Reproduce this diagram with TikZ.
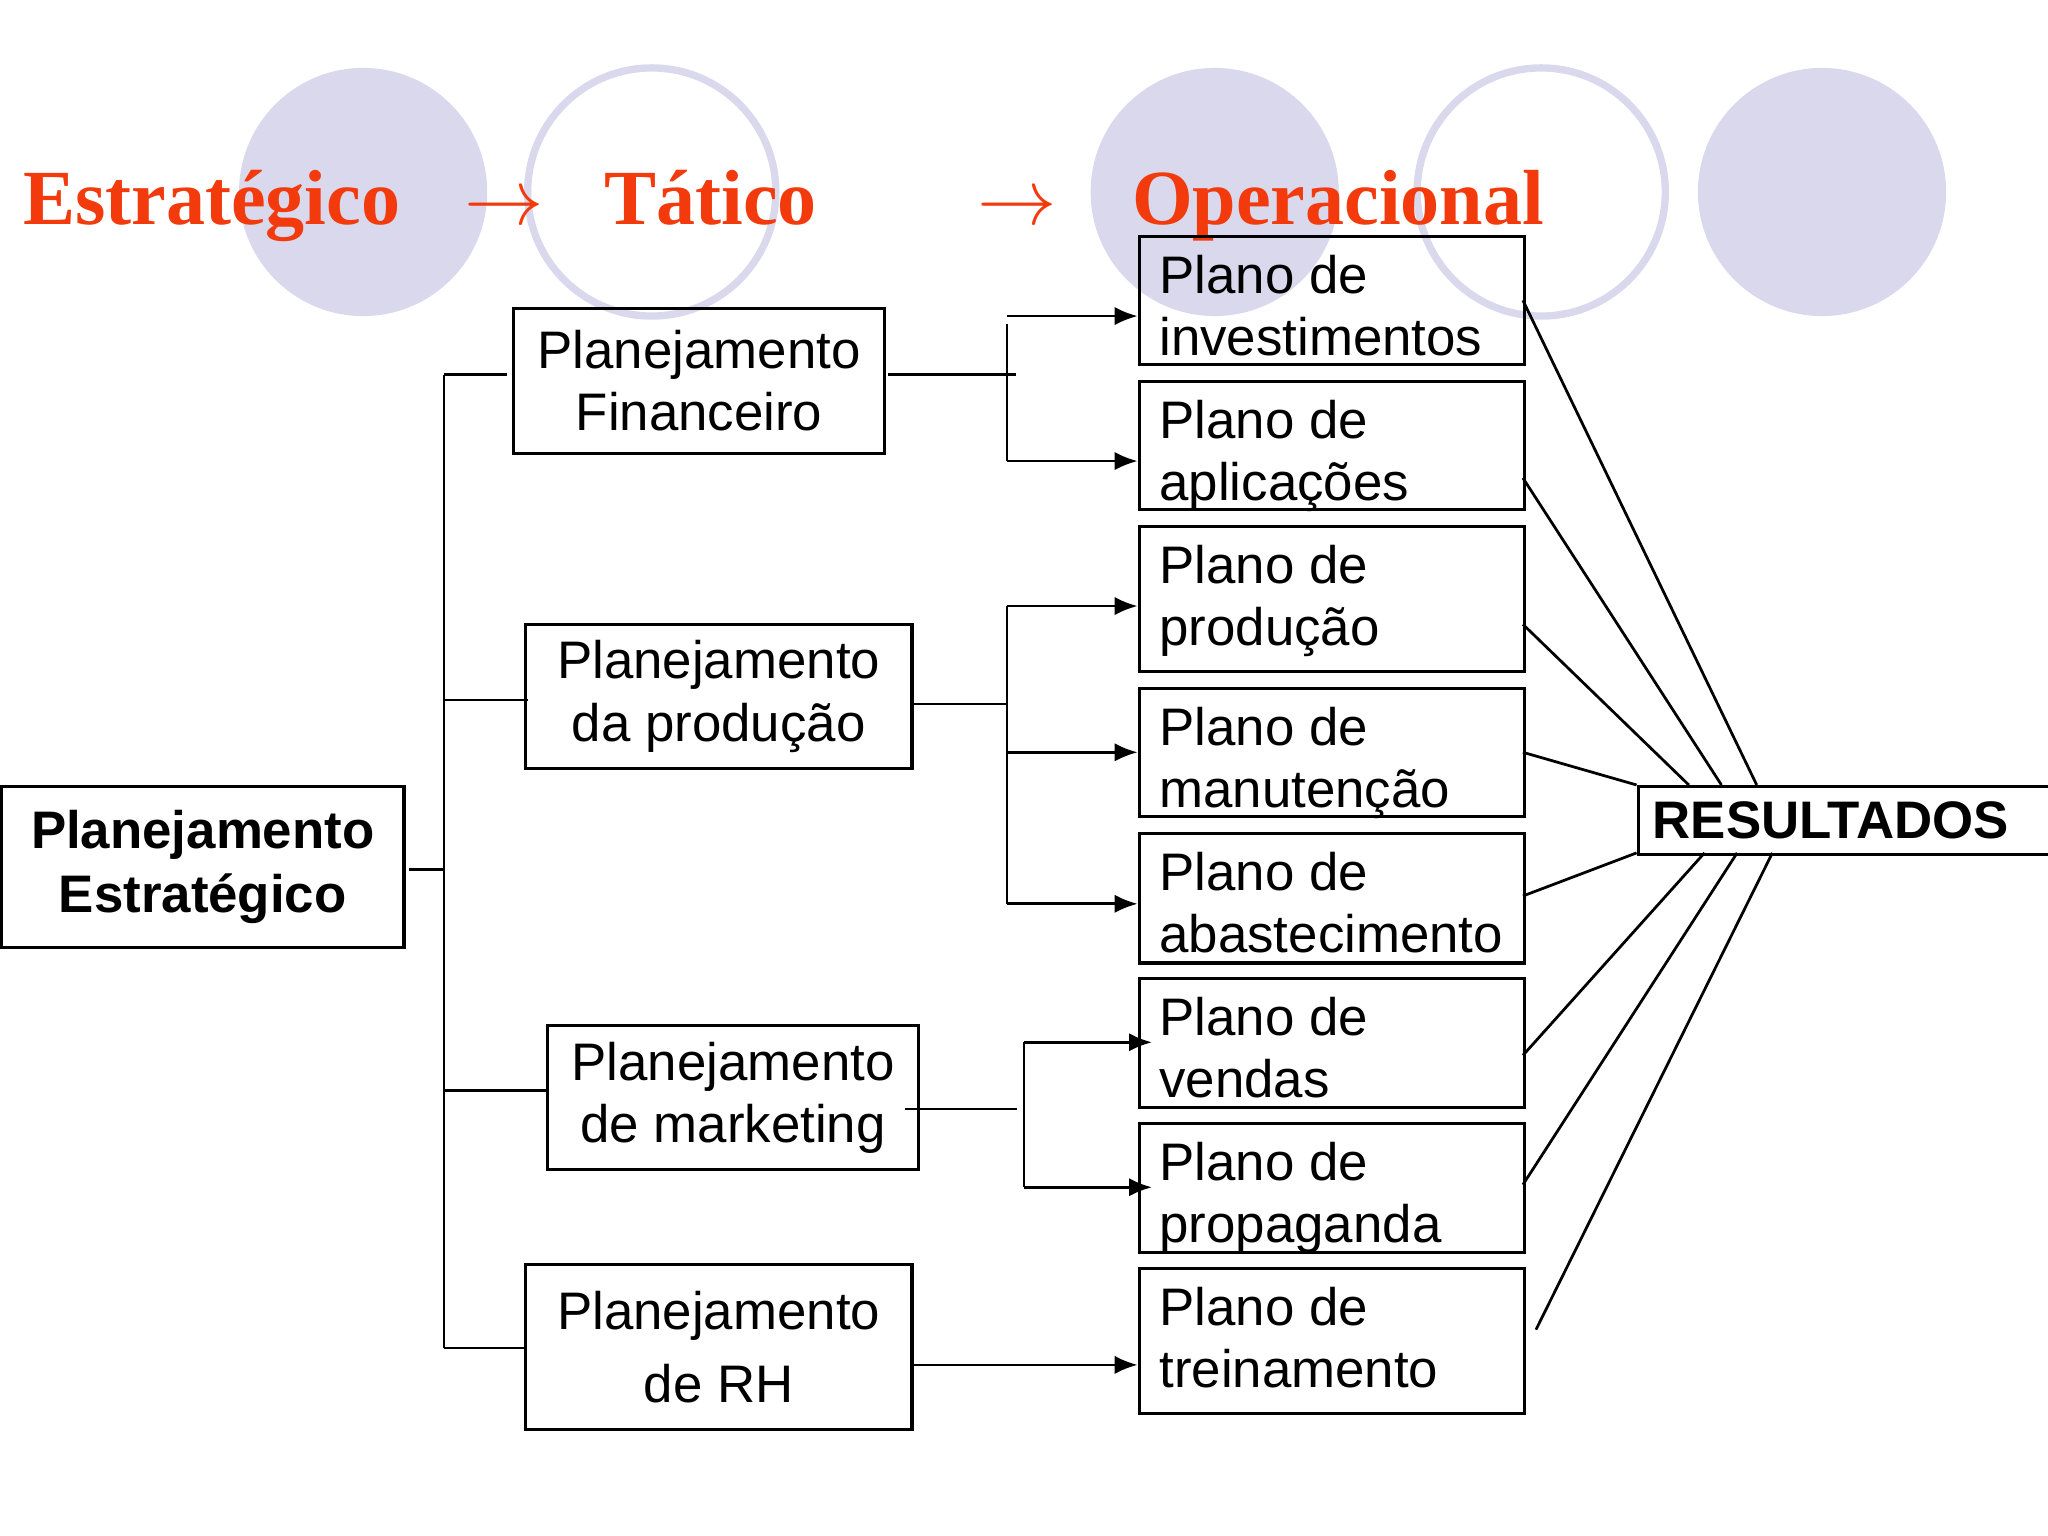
\documentclass[tikz,border=0pt]{standalone}
\usepackage{fontspec}
\setmainfont{Liberation Sans}
\newfontfamily\titlefont{Liberation Serif}
\usetikzlibrary{arrows.meta}
\definecolor{lav}{HTML}{D9D8EC}
\definecolor{tred}{HTML}{F23A0C}
\tikzset{
 x=0.01cm,y=-0.01cm,
 box/.style={draw,line width=0.7pt,inner sep=0pt},
 txt/.style={font=\fontsize{11.5}{13.5}\selectfont,inner sep=0pt},
 ctxt/.style={txt,align=center},
 ltxt/.style={txt,align=left,anchor=north west},
 title/.style={font=\titlefont\bfseries\fontsize{17}{20}\selectfont,text=tred,inner sep=0pt,anchor=base west},
 fc/.style={fill=lav,draw=none},
 oc/.style={draw=lav,line width=1.6pt},
 ln/.style={line width=0.6pt},
 ar/.style={ln,-{Latex[length=5pt,width=4pt]}},
}
\newcommand{\mybox}[5]{\node[box,minimum width={(#4-#2)*0.01cm},minimum height={(#5-#3)*0.01cm},anchor=north west] (#1) at (#2,#3) {};}
\begin{document}
\begin{tikzpicture}
\useasboundingbox (0,0) rectangle (1568,1176);
\fill[fc] (278,147) circle (95);
\draw[oc] (499,147) circle (95);
\fill[fc] (930,147) circle (95);
\draw[oc] (1180,147) circle (95);
\fill[fc] (1395,147) circle (95);
\node[title] (t1) at (17,172) {Estratégico};
\node[title] (a1) at (355,172) {$\rightarrow$};
\node[title] (t2) at (462,172) {Tático};
\node[title] (a2) at (748,172) {$\rightarrow$};
\node[title] (t3) at (866,172) {Operacional};

\mybox{pe}{0}{601}{308}{724}
\node[ctxt,font=\bfseries\fontsize{11.5}{14}\selectfont] at (pe) {Planejamento\\Estratégico};
\mybox{pf}{392}{235}{676}{346}
\node[ctxt] at (pf) {Planejamento\\Financeiro};
\mybox{pp}{401}{477}{697}{587}
\node[ctxt] at (pp) {Planejamento\\da produção};
\mybox{pm}{418}{784}{702}{894}
\node[ctxt] at (pm) {Planejamento\\de marketing};
\mybox{prh}{401}{967}{697}{1093}
\node[ctxt,font=\fontsize{11.5}{16}\selectfont] at (prh) {Planejamento\\de RH};

\mybox{inv}{871}{180}{1166}{278}
\mybox{apl}{871}{291}{1166}{389}
\mybox{prod}{871}{402}{1166}{513}
\mybox{man}{871}{526}{1166}{624}
\mybox{aba}{871}{637}{1166}{736}
\mybox{ven}{871}{748}{1166}{847}
\mybox{prop}{871}{859}{1166}{958}
\mybox{tre}{871}{970}{1166}{1081}
\foreach \n/\t in {inv/investimentos,apl/aplicações,prod/produção,man/manutenção,aba/abastecimento,ven/vendas,prop/propaganda,tre/treinamento}
  \node[ltxt] at ([xshift=0.16cm,yshift=-0.15cm]\n.north west) {Plano de\\\t};
\mybox{res}{1253}{601}{1568}{653}
\node[txt,font=\bfseries\fontsize{11.5}{14}\selectfont] at ([xshift=-0.1cm]res) {RESULTADOS};

% trunk
\coordinate (p0) at (313,666);
\coordinate (tt) at (340,287);
\coordinate (tb) at (340,1032);
\draw[ln] (p0) -- (340,666);
\draw[ln] (tt) -- (tb);
\draw[ln] (tt) -- (388,287);
\draw[ln] (340,536) -- (404,536);
\draw[ln] (340,835) -- (pm.west|-340,835);
\draw[ln] (tb) -- (prh.west|-tb);
% financeiro
\draw[ln] (680,287) -- (778,287);
\draw[ln] (771,248) -- (771,353);
\draw[ar] (771,242) -- (inv.west|-771,242);
\draw[ar] (771,353) -- (apl.west|-771,353);
% producao
\draw[ln] (pp.east|-697,539) -- (771,539);
\draw[ln] (771,464) -- (771,692);
\draw[ar] (771,464) -- (prod.west|-771,464);
\draw[ar] (771,576) -- (man.west|-771,576);
\draw[ar] (771,692) -- (aba.west|-771,692);
% marketing
\draw[ln] (693,849) -- (779,849);
\draw[ln] (784,798) -- (784,909);
\draw[ar] (784,798) -- (882,798);
\draw[ar] (784,909) -- (882,909);
% RH
\draw[ar] (prh.east|-697,1045) -- (tre.west|-697,1045);
% resultados
\draw[ln] (1166,230) -- (1345,601);
\draw[ln] (1166,366) -- (1318,601);
\draw[ln] (1166,478) -- (1293,601);
\draw[ln] (1166,576) -- (1253,601);
\draw[ln] (1166,686) -- (1253,653);
\draw[ln] (1166,808) -- (1305,653);
\draw[ln] (1166,907) -- (1330,653);
\draw[ln] (1176,1018) -- (1357,653);
\end{tikzpicture}
\end{document}
